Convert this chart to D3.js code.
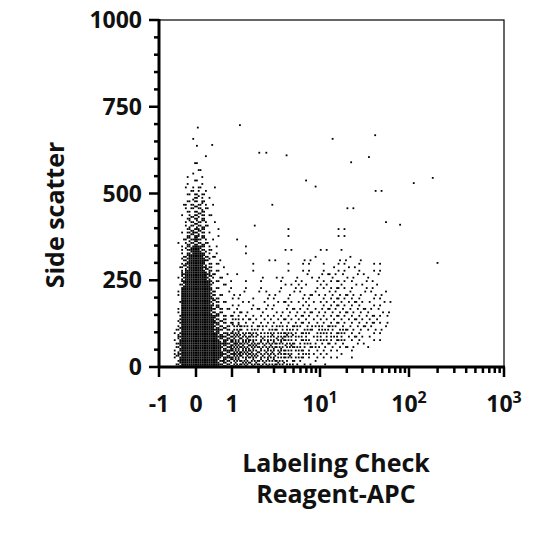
<!DOCTYPE html>
<html>
<head>
<meta charset="UTF-8">
<script src="https://d3js.org/d3.v7.min.js"></script>
<style>
  body { margin: 0; background: #fff; }
  text { font-family: "Open Sans", sans-serif; font-weight: 700; fill: #111; }
</style>
</head>
<body>
<svg id="chart" width="540" height="540"></svg>
<script>
// x is in display units: -1,0,1 linear, then 2 = 10, 3 = 100, 4 = 1000
const xTickValues = [-1, 0, 1, 2, 3, 4];
const xTickLabels = ["-1", "0", "1", "10|1", "10|2", "10|3"];
const yTickValues = [0, 250, 500, 750, 1000];

// density grid: rows are side-scatter bins of 25 (top row = 675-700),
// columns are 0.1-unit bins starting at x = -0.6; digit 0-9 = how filled the cell is
const binStartX = -0.6, binW = 0.1, binH = 25, topBin = 675;
const densityRows = [
  "0000001000000000000000000000000000000",
  "0000010100000000000000000001000000000",
  "0000001000000000000000000000000000000",
  "0000011010000000000100000000000000000",
  "0000012100100000000000000000000000000",
  "0000122210000000000000000000000000000",
  "0001123211000000000000001000000000000",
  "0001234311010000000000000000000010000",
  "0012345321100000000000000000000000000",
  "0013455432101000000010000000010000000",
  "0013456432100000000000000000000000000",
  "0014566542110000001000000000000001000",
  "0024677542111000000000100000100000000",
  "0135788653111000100000000000000000000",
  "0146899864211000010000100010100000000",
  "0157999975211100000010001100111000000",
  "0168999986321100001000101011111010000",
  "0279999998422110100101011112111110000",
  "0289999999532211010101121121211110000",
  "0399999999643211110111111212121111000",
  "0399999999754321111111212122222111000",
  "0499999999865432211211222222222211000",
  "1599999999976543322222222222222221000",
  "1699999999987654433333333333322211000",
  "2799999999998776654444433333322110000",
  "3899999999999887766554433322211100000",
  "4899999999999887766554433221110000000",
  "2799999999998877665544321110000000000"
];
// isolated events
const outlierX = [1.09, 0.05, 2.62, 1.62, 2.55, 3.25, 3.05, 2.35, 1.95, 0.45, 2.9, 3.3];
const outlierY = [697, 690, 668, 610, 605, 545, 530, 590, 520, 640, 410, 300];

const svg = d3.select("#chart");
const x = d3.scaleLinear().domain([-1, 0, 1, 2, 3, 4]).range([159, 196, 232, 320, 409, 504]);
const y = d3.scaleLinear().domain([0, 1000]).range([367, 20]);

// ordered dither matrix for the stipple
const bayer = [[0, 8, 2, 10], [12, 4, 14, 6], [3, 11, 1, 9], [15, 7, 13, 5]];
const dots = [];
densityRows.forEach((row, r) => {
  const y0 = topBin - r * binH;
  for (let c = 0; c < row.length; c++) {
    const d = +row[c];
    if (!d) continue;
    const xa = x(binStartX + c * binW), xb = x(binStartX + (c + 1) * binW);
    const ya = y(y0 + binH), yb = y(y0);
    const nx = Math.max(2, Math.round((xb - xa) / 1.6)), ny = Math.round((yb - ya) / 1.6);
    const fill = d === 9 ? 1.1 : 0.04 + Math.pow(d / 9, 1.3) * 0.7;
    for (let i = 0; i < nx; i++) for (let j = 0; j < ny; j++) {
      const gi = i * 3 + c * 5 + r * 7, gj = j * 5 + r * 3 + c * 2;
      if ((bayer[gj % 4][gi % 4] + 0.5) / 16 < fill)
        dots.push([xa + (i + 0.5) * (xb - xa) / nx, ya + (j + 0.5) * (yb - ya) / ny]);
    }
  }
});
svg.append("g").selectAll("rect").data(dots).join("rect")
  .attr("x", d => d[0] - 0.9).attr("y", d => d[1] - 0.9)
  .attr("width", 1.8).attr("height", 1.8).attr("fill", "#000");
svg.append("g").selectAll("rect").data(outlierX).join("rect")
  .attr("x", (d, i) => x(d) - 0.9).attr("y", (d, i) => y(outlierY[i]) - 0.9)
  .attr("width", 1.8).attr("height", 1.8).attr("fill", "#000");

// frame
svg.append("rect").attr("x", 159).attr("y", 20).attr("width", 345).attr("height", 347)
  .attr("fill", "none").attr("stroke", "#000").attr("stroke-width", 1.2);

// y axis
const yMinor = d3.range(0, 1001, 50);
svg.append("g").selectAll("line").data(yMinor).join("line")
  .attr("x1", 159).attr("x2", d => d % 250 === 0 ? 149 : 154)
  .attr("y1", d => y(d)).attr("y2", d => y(d)).attr("stroke", "#000").attr("stroke-width", 2.5);
svg.append("g").selectAll("text").data(yTickValues).join("text")
  .attr("x", 142).attr("y", d => y(d) + 8).attr("text-anchor", "end")
  .attr("font-size", 23).text(d => d);
svg.append("line").attr("x1", 159).attr("x2", 159).attr("y1", 19).attr("y2", 368)
  .attr("stroke", "#000").attr("stroke-width", 3);

// x axis
const xMinor = [];
[1, 2, 3].forEach(dec => { for (let k = 2; k <= 9; k++) xMinor.push(dec + Math.log10(k)); });
svg.append("g").selectAll("line").data(xMinor).join("line")
  .attr("x1", d => x(d)).attr("x2", d => x(d)).attr("y1", 367).attr("y2", 373)
  .attr("stroke", "#000").attr("stroke-width", 2.5);
svg.append("g").selectAll("line").data(xTickValues).join("line")
  .attr("x1", d => x(d)).attr("x2", d => x(d)).attr("y1", 367).attr("y2", 377)
  .attr("stroke", "#000").attr("stroke-width", 2.5);
svg.append("line").attr("x1", 158).attr("x2", 505).attr("y1", 367).attr("y2", 367)
  .attr("stroke", "#000").attr("stroke-width", 3);
const xl = svg.append("g").selectAll("text").data(xTickValues).join("text")
  .attr("x", d => x(d)).attr("y", 412).attr("text-anchor", "middle").attr("font-size", 23);
xl.each(function(d, i) {
  const p = xTickLabels[i].split("|");
  const t = d3.select(this);
  t.append("tspan").text(p[0]);
  if (p[1]) t.append("tspan").attr("dy", -9).attr("font-size", 16).text(p[1]);
});

// titles
svg.append("text").attr("transform", "translate(64,215) rotate(-90)")
  .attr("text-anchor", "middle").attr("font-size", 25).text("Side scatter");
svg.append("text").attr("x", 336).attr("y", 472).attr("text-anchor", "middle")
  .attr("font-size", 25).text("Labeling Check");
svg.append("text").attr("x", 336).attr("y", 503).attr("text-anchor", "middle")
  .attr("font-size", 25).text("Reagent-APC");
</script>
</body>
</html>
